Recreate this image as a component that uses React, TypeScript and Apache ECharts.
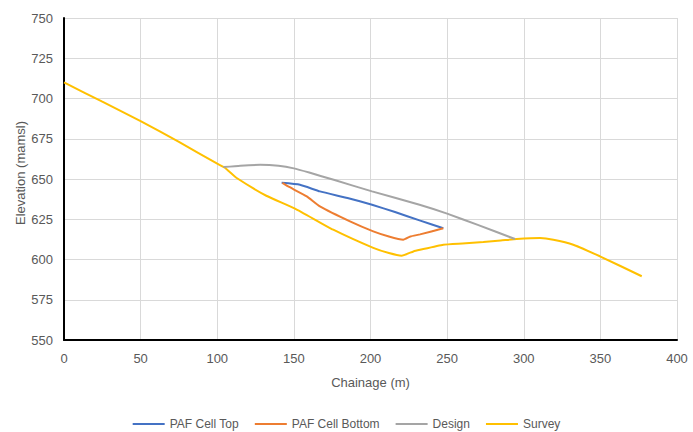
import React, { useEffect, useRef } from "react";
import * as echarts from "echarts";

const seriesNames = ["PAF Cell Top", "PAF Cell Bottom", "Design", "Survey"];
const colors = ["#4472C4", "#ED7D31", "#A5A5A5", "#FFC000"];

const pafTop: [number, number][] = [
  [142, 647.6], [154, 646.4], [167, 642.3], [185, 638.2], [201, 634],
  [216, 629.5], [232, 624.3], [247.5, 619.4],
];
const pafBottom: [number, number][] = [
  [142.5, 647.6], [146, 645.5], [158.4, 639.2], [167, 633], [186.6, 623.7],
  [201.8, 617.5], [212, 614.3], [221.4, 612.3], [226, 614.3], [232.3, 615.6],
  [247.5, 619.4],
];
const design: [number, number][] = [
  [104, 657.4], [115, 658.3], [128, 658.8], [140, 658.2], [150, 656.6],
  [160, 654], [176, 649.5], [201, 642.3], [232, 634], [250, 628.5],
  [270, 621.5], [294.3, 612.7],
];
const survey: [number, number][] = [
  [0, 710], [25, 698], [50, 686], [75, 673], [100, 659.5], [105, 657],
  [108, 654.5], [112.7, 650.6], [132, 639.6], [150.7, 631.6], [175.7, 618.5],
  [201.8, 607.2], [212, 604], [220.3, 602.4], [228, 605], [232.3, 606],
  [247.5, 609.2], [260, 610], [273.6, 610.9], [285, 611.8], [295.4, 612.7],
  [310.6, 613.3], [319.3, 612.3], [332.3, 609.2], [349.7, 602], [377, 589.6],
];

const xTitle = "Chainage (m)";
const yTitle = "Elevation (mamsl)";

export default function App() {
  const ref = useRef<HTMLDivElement>(null);
  useEffect(() => {
    if (!ref.current) return;
    const chart = echarts.init(ref.current, null, { renderer: "svg" });
    const font = "'Liberation Sans', Arial, sans-serif";
    const datasets = [pafTop, pafBottom, design, survey];
    chart.setOption({
      animation: false,
      textStyle: { fontFamily: font },
      grid: { left: 64, right: 16, top: 18, bottom: 92, outerBoundsMode: "none" },
      legend: {
        top: 413,
        left: "center",
        icon: "rect",
        itemWidth: 32,
        itemHeight: 2,
        itemGap: 16,
        textStyle: { color: "#595959", fontSize: 12, fontFamily: font },
        data: seriesNames,
      },
      xAxis: {
        type: "value",
        min: 0,
        max: 400,
        interval: 50,
        name: xTitle,
        nameLocation: "middle",
        nameGap: 36,
        nameMoveOverlap: false,
        nameTextStyle: { color: "#595959", fontSize: 13, fontFamily: font },
        axisLine: { show: true, lineStyle: { color: "#000", width: 2 } },
        axisTick: { show: false },
        axisLabel: { color: "#595959", fontSize: 13, margin: 12, fontFamily: font },
        splitLine: { show: true, lineStyle: { color: "#D9D9D9", width: 1 } },
      },
      yAxis: {
        type: "value",
        min: 550,
        max: 750,
        interval: 25,
        name: yTitle,
        nameLocation: "middle",
        nameGap: 37,
        nameMoveOverlap: false,
        nameTextStyle: { color: "#595959", fontSize: 13, fontFamily: font, padding: [0, 0, 0, 12] },
        axisLine: { show: true, lineStyle: { color: "#000", width: 2 } },
        axisTick: { show: false },
        axisLabel: { color: "#595959", fontSize: 13, margin: 11, fontFamily: font },
        splitLine: { show: true, lineStyle: { color: "#D9D9D9", width: 1 } },
      },
      series: seriesNames.map((name, i) => ({
        name,
        type: "line",
        data: datasets[i],
        symbol: "none",
        smooth: 0.15,
        z: i === 3 ? 1 : 2,
        lineStyle: { color: colors[i], width: 2 },
        itemStyle: { color: colors[i] },
      })),
    });
    return () => chart.dispose();
  }, []);
  return (
    <div
      ref={ref}
      style={{ position: "fixed", left: 0, top: 0, width: 693, height: 432, background: "#fff" }}
    />
  );
}
